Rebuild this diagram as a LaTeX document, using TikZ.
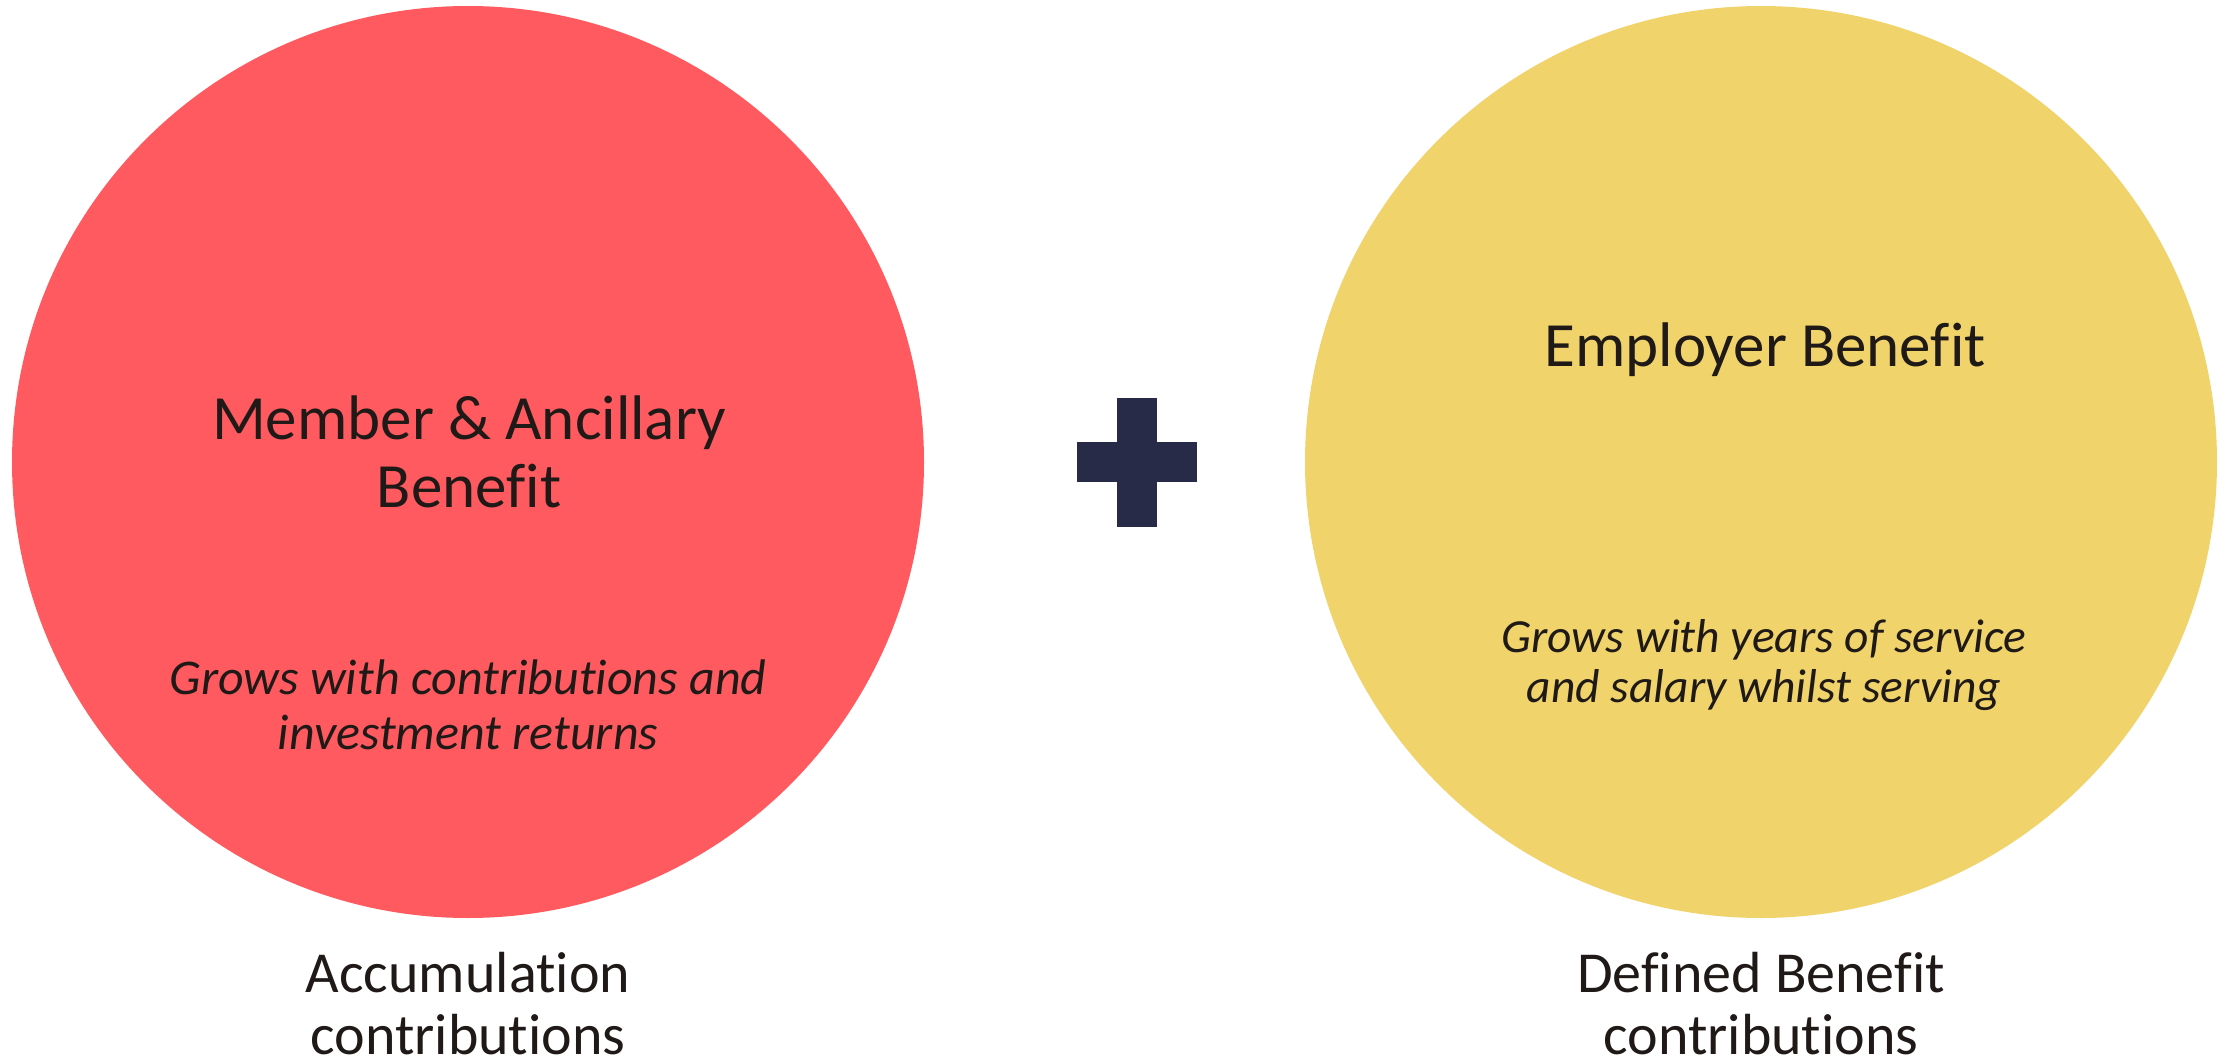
\documentclass[tikz,border=0pt]{standalone}
\usepackage{fontspec}
\setmainfont{Carlito}[Ligatures=NoCommon]
\definecolor{memred}{HTML}{FF5A5F}
\definecolor{empyel}{HTML}{F0D36A}
\definecolor{plusblue}{HTML}{272B48}
\definecolor{txt}{HTML}{1F1A17}
\tikzset{
  blob/.style={circle, minimum size=912pt, inner sep=0pt, draw=none},
  title/.style={text=txt, align=center, inner sep=0pt, anchor=base, font=\fontsize{63}{68}\selectfont},
  note/.style={text=txt, align=center, inner sep=0pt, anchor=base, font=\itshape\fontsize{50}{55}\selectfont},
  foot/.style={text=txt, align=center, inner sep=0pt, anchor=base, font=\fontsize{58}{62}\selectfont},
}
\begin{document}
\begin{tikzpicture}[x=1pt,y=-1pt]
\useasboundingbox (0,0) rectangle (2231,1062);
\node[blob, fill=memred] (mem) at (468,462) {};
\node[blob, fill=empyel] (emp) at (1761,462) {};
\fill[plusblue] (1117,398) rectangle (1157,527);
\fill[plusblue] (1077,442) rectangle (1197,482);
\node[title] (memt) at (469,507) {Member \& Ancillary\\Benefit};
\node[note] (memn) at (468,749) {Grows with contributions and\\investment returns};
\node[title] (empt) at (1765,366) {Employer Benefit};
\node[note, font=\itshape\fontsize{47.5}{50}\selectfont] (empn) at (1764,702) {Grows with years of service\\and salary whilst serving};
\node[foot] (acc) at (468,1054) {Accumulation\\contributions};
\node[foot] (db) at (1761,1054) {Defined Benefit\\contributions};
\end{tikzpicture}
\end{document}
